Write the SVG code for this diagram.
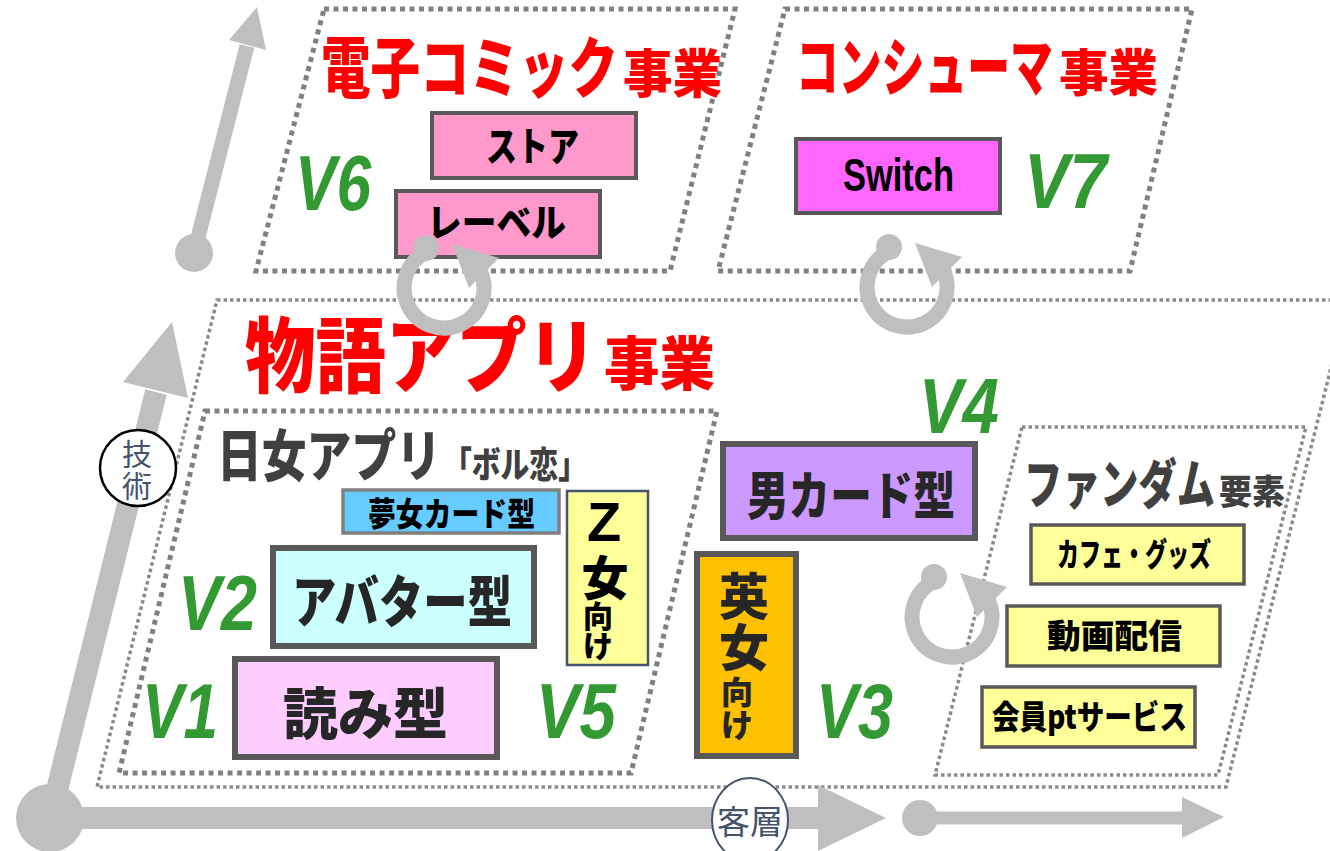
<svg xmlns="http://www.w3.org/2000/svg" xmlns:xlink="http://www.w3.org/1999/xlink" width="1330" height="851" viewBox="0 0 1330 851">
<style>
.thick{fill:none;stroke:#808080;stroke-width:5;stroke-dasharray:5 4.5}
.thin{fill:none;stroke:#8a8a8a;stroke-width:3.5;stroke-dasharray:3.5 3}
.jp{font-family:"Noto Sans CJK JP","Noto Sans CJK SC",sans-serif;font-weight:900}
.red{fill:#ff0000}
.dg{fill:#404040}
.blk{fill:#000000}
.dk{fill:#262626}
.v{font-family:"Liberation Sans",Arial,sans-serif;font-weight:700;font-style:italic;fill:#339933;font-size:78px}
.ax{fill:#bfbfbf}
.axl{stroke:#bfbfbf;fill:none}
.lbl{font-family:"Noto Sans CJK JP",sans-serif;font-weight:400;fill:#44546a}
</style>
<defs>
<g id="cyc">
<path d="M -16.3 -36.5 A 40 40 0 1 0 36.3 -16.9" fill="none" stroke="#bfbfbf" stroke-width="15"/>
<polygon points="8,-44 55,-30 25,0" fill="#bfbfbf"/>
<circle cx="-18" cy="-40" r="13" fill="#bfbfbf"/>
</g>
</defs>

<g id="regions">
<polygon id="region-story" class="thin" points="217,300 1348,300 1226,787 97,787"/>
<polygon id="region-fandom" class="thin" points="1022,427 1306,427 1218,775 935,775"/>
<polygon id="region-comic" class="thick" points="324,9 735,9 670,271 256,271"/>
<polygon id="region-consumer" class="thick" points="785,9 1192,9 1130,271 718,271"/>
<polygon id="region-jpapp" class="thick" points="205,411 717,411 631,773 119,773"/>
</g>

<g id="connectors">
<g id="axis-tech">
<line class="axl" x1="50" y1="818" x2="156" y2="392" stroke-width="22"/>
<polygon class="ax" points="172,322 123,382 188,398"/>
</g>
<g id="axis-tech-2">
<circle class="ax" cx="194" cy="253" r="19"/>
<line class="axl" x1="194" y1="253" x2="247" y2="46" stroke-width="15"/>
<polygon class="ax" points="257,7 229,40 266,50"/>
</g>
<g id="axis-customer">
<circle class="ax" cx="50" cy="818" r="34"/>
<line class="axl" x1="50" y1="818" x2="825" y2="818" stroke-width="22"/>
<polygon class="ax" points="886,818 818,785 818,851"/>
</g>
<g id="axis-customer-2">
<circle class="ax" cx="920" cy="818" r="18"/>
<line class="axl" x1="920" y1="818" x2="1185" y2="818" stroke-width="13"/>
<polygon class="ax" points="1224,817 1182,797 1182,838"/>
</g>
</g>

<g id="titles">
<text class="jp red" transform="translate(321,92) scale(0.75,1)" font-size="66">電子コミック</text>
<text class="jp red" transform="translate(623,93) scale(0.952,1)" font-size="52">事業</text>
<text class="jp red" transform="translate(796,90) scale(0.669,1)" font-size="64">コンシューマ</text>
<text class="jp red" transform="translate(1059,91) scale(0.99,1)" font-size="50">事業</text>
<text class="jp red" transform="translate(245,386) scale(0.859,1)" font-size="82">物語アプリ</text>
<text class="jp red" transform="translate(604,385) scale(0.957,1)" font-size="58">事業</text>
<text class="jp dg" transform="translate(217,476) scale(0.8,1)" font-size="56">日女アプリ</text>
<text class="jp dg" transform="translate(443,478) scale(0.8,1)" font-size="36">「ボル恋」</text>
<text class="jp dg" transform="translate(1024,504) scale(0.707,1)" font-size="54">ファンダム</text>
<text class="jp dg" transform="translate(1219,504) scale(0.97,1)" font-size="34">要素</text>
</g>

<g id="versions">
<text class="v" x="295" y="210" textLength="76" lengthAdjust="spacingAndGlyphs">V6</text>
<text class="v" x="1024" y="208" textLength="83" lengthAdjust="spacingAndGlyphs">V7</text>
<text class="v" x="178" y="630" textLength="79" lengthAdjust="spacingAndGlyphs">V2</text>
<text class="v" x="142" y="738" textLength="76" lengthAdjust="spacingAndGlyphs">V1</text>
<text class="v" x="536" y="738" textLength="80" lengthAdjust="spacingAndGlyphs">V5</text>
<text class="v" x="919" y="433" textLength="80" lengthAdjust="spacingAndGlyphs">V4</text>
<text class="v" x="816" y="738" textLength="77" lengthAdjust="spacingAndGlyphs">V3</text>
</g>

<g id="node-store">
<rect x="432" y="113" width="204" height="65" fill="#ff99cc" stroke="#595959" stroke-width="4"/>
<text class="jp blk" x="486" y="161" font-size="40" textLength="93" lengthAdjust="spacingAndGlyphs">ストア</text>
</g>
<g id="node-label">
<rect x="396" y="191" width="204" height="66" fill="#ff99cc" stroke="#595959" stroke-width="4"/>
<text class="jp blk" x="427" y="236" font-size="38" textLength="139" lengthAdjust="spacingAndGlyphs">レーベル</text>
</g>
<g id="node-switch">
<rect x="796" y="139" width="204" height="74" fill="#ff66ff" stroke="#595959" stroke-width="4"/>
<text x="843" y="191" font-family="Liberation Sans, Arial, sans-serif" font-weight="700" font-size="46" fill="#000" textLength="111" lengthAdjust="spacingAndGlyphs">Switch</text>
</g>
<g id="node-yume">
<rect x="343" y="490" width="216" height="43" fill="#66ccff" stroke="#7f7f7f" stroke-width="3.5"/>
<text class="jp blk" x="368" y="526" font-size="33" textLength="167" lengthAdjust="spacingAndGlyphs">夢女カード型</text>
</g>
<g id="node-zjo">
<rect x="567" y="491" width="81" height="174" fill="#ffff99" stroke="#44546a" stroke-width="2.5"/>
<text class="jp blk" text-anchor="middle"><tspan x="604" y="541" font-family="Liberation Sans, Arial, sans-serif" font-weight="700" font-size="56">Z</tspan><tspan x="605" y="595" font-size="47">女</tspan><tspan x="598" y="627" font-size="30">向</tspan><tspan x="598" y="657" font-size="30">け</tspan></text>
</g>
<g id="node-avatar">
<rect x="273" y="548" width="261" height="98" fill="#ccffff" stroke="#595959" stroke-width="6"/>
<text class="jp dk" x="292" y="622" font-size="56" textLength="220" lengthAdjust="spacingAndGlyphs">アバター型</text>
</g>
<g id="node-read">
<rect x="235" y="659" width="262" height="98" fill="#ffccff" stroke="#595959" stroke-width="6"/>
<text class="jp dk" x="283" y="734" font-size="56" textLength="165" lengthAdjust="spacingAndGlyphs">読み型</text>
</g>
<g id="node-mancard">
<rect x="723" y="444" width="252" height="94" fill="#cc99ff" stroke="#595959" stroke-width="6"/>
<text class="jp dk" x="747" y="515" font-size="52" textLength="208" lengthAdjust="spacingAndGlyphs">男カード型</text>
</g>
<g id="node-eijo">
<rect x="697" y="554" width="99" height="202" fill="#ffc000" stroke="#595959" stroke-width="6"/>
<text class="jp dk" text-anchor="middle"><tspan x="744" y="615" font-size="50">英</tspan><tspan x="744" y="666" font-size="50">女</tspan><tspan x="737" y="704" font-size="32">向</tspan><tspan x="737" y="737" font-size="32">け</tspan></text>
</g>
<g id="node-cafe">
<rect x="1031" y="525" width="213" height="59" fill="#ffff99" stroke="#595959" stroke-width="3.5"/>
<text class="jp blk" transform="translate(1057,566) scale(0.688,1)" font-size="32">カフェ・グッズ</text>
</g>
<g id="node-video">
<rect x="1007" y="606" width="213" height="60" fill="#ffff99" stroke="#595959" stroke-width="3.5"/>
<text class="jp blk" x="1047" y="648" font-size="33" textLength="135" lengthAdjust="spacingAndGlyphs">動画配信</text>
</g>
<g id="node-member">
<rect x="982" y="687" width="213" height="60" fill="#ffff99" stroke="#595959" stroke-width="3.5"/>
<text class="jp blk" x="992" y="729" font-size="33" textLength="195" lengthAdjust="spacingAndGlyphs">会員ptサービス</text>
</g>

<g id="axis-labels">
<g id="label-tech">
<ellipse cx="138" cy="468" rx="38" ry="38" fill="#ffffff" stroke="#000000" stroke-width="2.5"/>
<text class="lbl" font-size="30" text-anchor="middle"><tspan x="137" y="465">技</tspan><tspan x="137" y="497">術</tspan></text>
</g>
<g id="label-customer">
<ellipse cx="750" cy="820" rx="38" ry="42" fill="#ffffff" stroke="#44546a" stroke-width="2"/>
<text class="lbl" x="750" y="834" font-size="33" text-anchor="middle">客層</text>
</g>
</g>

<g id="cycles">
<use xlink:href="#cyc" href="#cyc" transform="translate(444,288)"/>
<use xlink:href="#cyc" href="#cyc" transform="translate(907,287)"/>
<use xlink:href="#cyc" href="#cyc" transform="translate(952,617)"/>
</g>
</svg>
